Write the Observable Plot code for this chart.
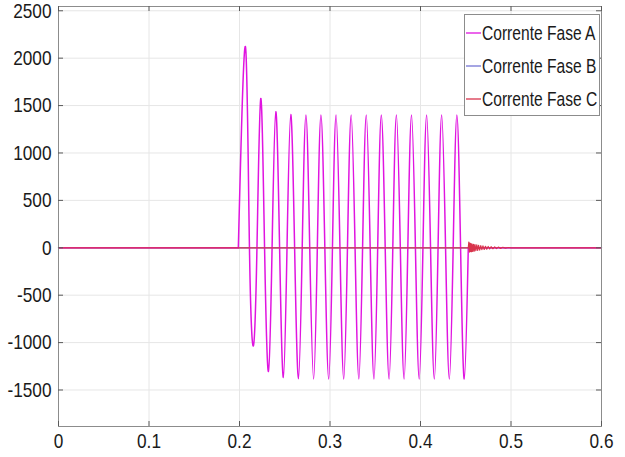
<!DOCTYPE html>
<html>
<head>
<meta charset="utf-8">
<script src="https://cdn.jsdelivr.net/npm/d3@7"></script>
<script src="https://cdn.jsdelivr.net/npm/@observablehq/plot@0.6"></script>
<style>
  body { margin: 0; background: #fff; }
  #wrap { position: relative; width: 625px; height: 457px; }
  #legend { position: absolute; left: 0; top: 0; }
</style>
</head>
<body>
<div id="wrap"></div>
<script>
// ---- data ----
const seriesNames = ["Corrente Fase A", "Corrente Fase B", "Corrente Fase C"];
const seriesColors = ["#e014e0", "#7474d4", "#d8344c"];

const xTicks = [0, 0.1, 0.2, 0.3, 0.4, 0.5, 0.6];
const yTicks = [-1500, -1000, -500, 0, 500, 1000, 1500, 2000, 2500];

// Phase A: extrema and zero crossings of the fault current (s, A)
const tA = [0, 0.1987,
  0.2066, 0.2110, 0.2154, 0.2193,
  0.2235, 0.2277, 0.2320, 0.2360,
  0.2401, 0.2443, 0.2485, 0.2525,
  0.2566, 0.2609, 0.2652, 0.2693,
  0.2734, 0.2776, 0.2819, 0.2860,
  0.2900, 0.2943, 0.2986, 0.3027,
  0.3067, 0.3110, 0.3152, 0.3193,
  0.3234, 0.3277, 0.3319, 0.3360,
  0.3401, 0.3444, 0.3486, 0.3527,
  0.3567, 0.3610, 0.3653, 0.3694,
  0.3734, 0.3777, 0.3819, 0.3860,
  0.3901, 0.3944, 0.3986, 0.4027,
  0.4068, 0.4111, 0.4153, 0.4194,
  0.4234, 0.4277, 0.4319, 0.4361,
  0.4402, 0.4443, 0.4484,
  0.4528, 0.6];
const iA = [0, 0,
  2120, 0, -1034, 0,
  1575, 0, -1305, 0,
  1435, 0, -1368, 0,
  1406, 0, -1382, 0,
  1400, 0, -1385, 0,
  1400, 0, -1385, 0,
  1400, 0, -1385, 0,
  1400, 0, -1385, 0,
  1400, 0, -1385, 0,
  1400, 0, -1385, 0,
  1400, 0, -1385, 0,
  1400, 0, -1385, 0,
  1400, 0, -1385, 0,
  1400, 0, -1385, 0,
  1400, 0, -1385,
  0, 0];
// fault interval of phase A (onset and clearing instants)
const faultStart = 0.1987, faultEnd = 0.4528;

// Phase B: stays at zero
const tB = [0, 0.6];
const iB = [0, 0];

// Phase C: zero with a decaying ripple after clearing
const tC = [0, 0.4528,
  0.4534, 0.4540, 0.4546, 0.4552, 0.4558, 0.4564, 0.4570,
  0.4578, 0.4586, 0.4594, 0.4602,
  0.4612, 0.4622, 0.4632, 0.4642,
  0.4654, 0.4666, 0.4678, 0.4690,
  0.4704, 0.4718, 0.4732,
  0.4748, 0.4764, 0.4780,
  0.4800, 0.4820, 0.4840, 0.4860,
  0.4885, 0.4910, 0.4940, 0.4970, 0.5000,
  0.6];
const iC = [0, 0,
  60, -45, 50, -40, 45, -42, 40,
  -38, 36, -35, 33,
  -30, 30, -28, 26,
  -24, 22, -20, 20,
  -18, 16, -15,
  14, -12, 11,
  -10, 9, -8, 7,
  -6, 5, -4, 3, 0,
  0];

// ---- build tables ----
const A = tA.map((t, k) => ({t, i: iA[k]}));
const Afault = A.filter(d => d.t >= faultStart && d.t <= faultEnd);
const Apre = A.filter(d => d.t <= faultStart);
const Apost = A.filter(d => d.t >= faultEnd);
const B = tB.map((t, k) => ({t, i: iB[k]}));
const C = tC.map((t, k) => ({t, i: iC[k]}));

const W = 625, H = 457;
const mL = 58, mR = 24, mT = 6, mB = 31;
const innerW = W - mL - mR, innerH = H - mT - mB;
const font = "'Liberation Sans', Arial, sans-serif";
const squeeze = 0.82; // the reference's lettering is horizontally condensed

const chart = Plot.plot({
  width: W, height: H,
  marginLeft: mL, marginRight: mR, marginTop: mT, marginBottom: mB,
  x: {domain: [0, 0.6]},
  y: {domain: [-1885, 2545]},
  style: {fontFamily: font, fontSize: "21px", color: "#1a1a1a", background: "#fff", overflow: "visible"},
  marks: [
    Plot.gridX(xTicks, {stroke: "#e6e6e6", strokeOpacity: 1}),
    Plot.gridY(yTicks, {stroke: "#e6e6e6", strokeOpacity: 1}),
    Plot.line(B, {x: "t", y: "i", stroke: seriesColors[1], strokeWidth: 1.2}),
    Plot.line(Apre, {x: "t", y: "i", stroke: seriesColors[0], strokeWidth: 1.4}),
    Plot.line(Afault, {x: "t", y: "i", stroke: seriesColors[0], strokeWidth: 1.5, curve: "natural"}),
    Plot.line(Apost, {x: "t", y: "i", stroke: seriesColors[0], strokeWidth: 1.4}),
    Plot.line(C, {x: "t", y: "i", stroke: seriesColors[2], strokeWidth: 1.2}),
    Plot.frame({stroke: "#8c8c8c"}),
    Plot.ruleX(xTicks, {insetTop: innerH - 5, stroke: "#5a5a5a"}),
    Plot.ruleX(xTicks, {insetBottom: innerH - 5, stroke: "#5a5a5a"}),
    Plot.ruleY(yTicks, {insetRight: innerW - 5, stroke: "#5a5a5a"}),
    Plot.ruleY(yTicks, {insetLeft: innerW - 5, stroke: "#5a5a5a"}),
    Plot.axisX(xTicks, {tickSize: 0, tickPadding: 7, tickFormat: d => String(d), label: null}),
    Plot.axisY(yTicks, {tickSize: 0, tickPadding: 7, tickFormat: d => String(d), label: null})
  ]
});
const wrap = document.getElementById("wrap");
wrap.appendChild(chart);

// condense the tick labels (no change to their anchoring)
d3.select(chart).selectAll("text").each(function () {
  const len = this.getComputedTextLength();
  if (len > 0) {
    this.setAttribute("textLength", (len * squeeze).toFixed(2));
    this.setAttribute("lengthAdjust", "spacingAndGlyphs");
  }
});

// ---- legend overlay (inside the axes, top right) ----
const lg = d3.select(wrap).append("svg")
  .attr("id", "legend").attr("width", W).attr("height", H);
const lx = 464, ly = 14, lw = 135, lh = 101;
lg.append("rect").attr("x", lx + 0.5).attr("y", ly + 0.5).attr("width", lw).attr("height", lh)
  .attr("fill", "#fff").attr("stroke", "#8c8c8c");
seriesNames.forEach((name, k) => {
  const cy = ly + 19 + k * 33;
  lg.append("line").attr("x1", lx + 2).attr("x2", lx + 17).attr("y1", cy).attr("y2", cy)
    .attr("stroke", seriesColors[k]).attr("stroke-width", 1.3);
  lg.append("text").attr("transform", `translate(${lx + 18},${cy}) scale(0.8,1)`)
    .attr("dy", "0.35em")
    .attr("font-family", font).attr("font-size", 19.5).attr("fill", "#1a1a1a").text(name);
});
</script>
</body>
</html>
